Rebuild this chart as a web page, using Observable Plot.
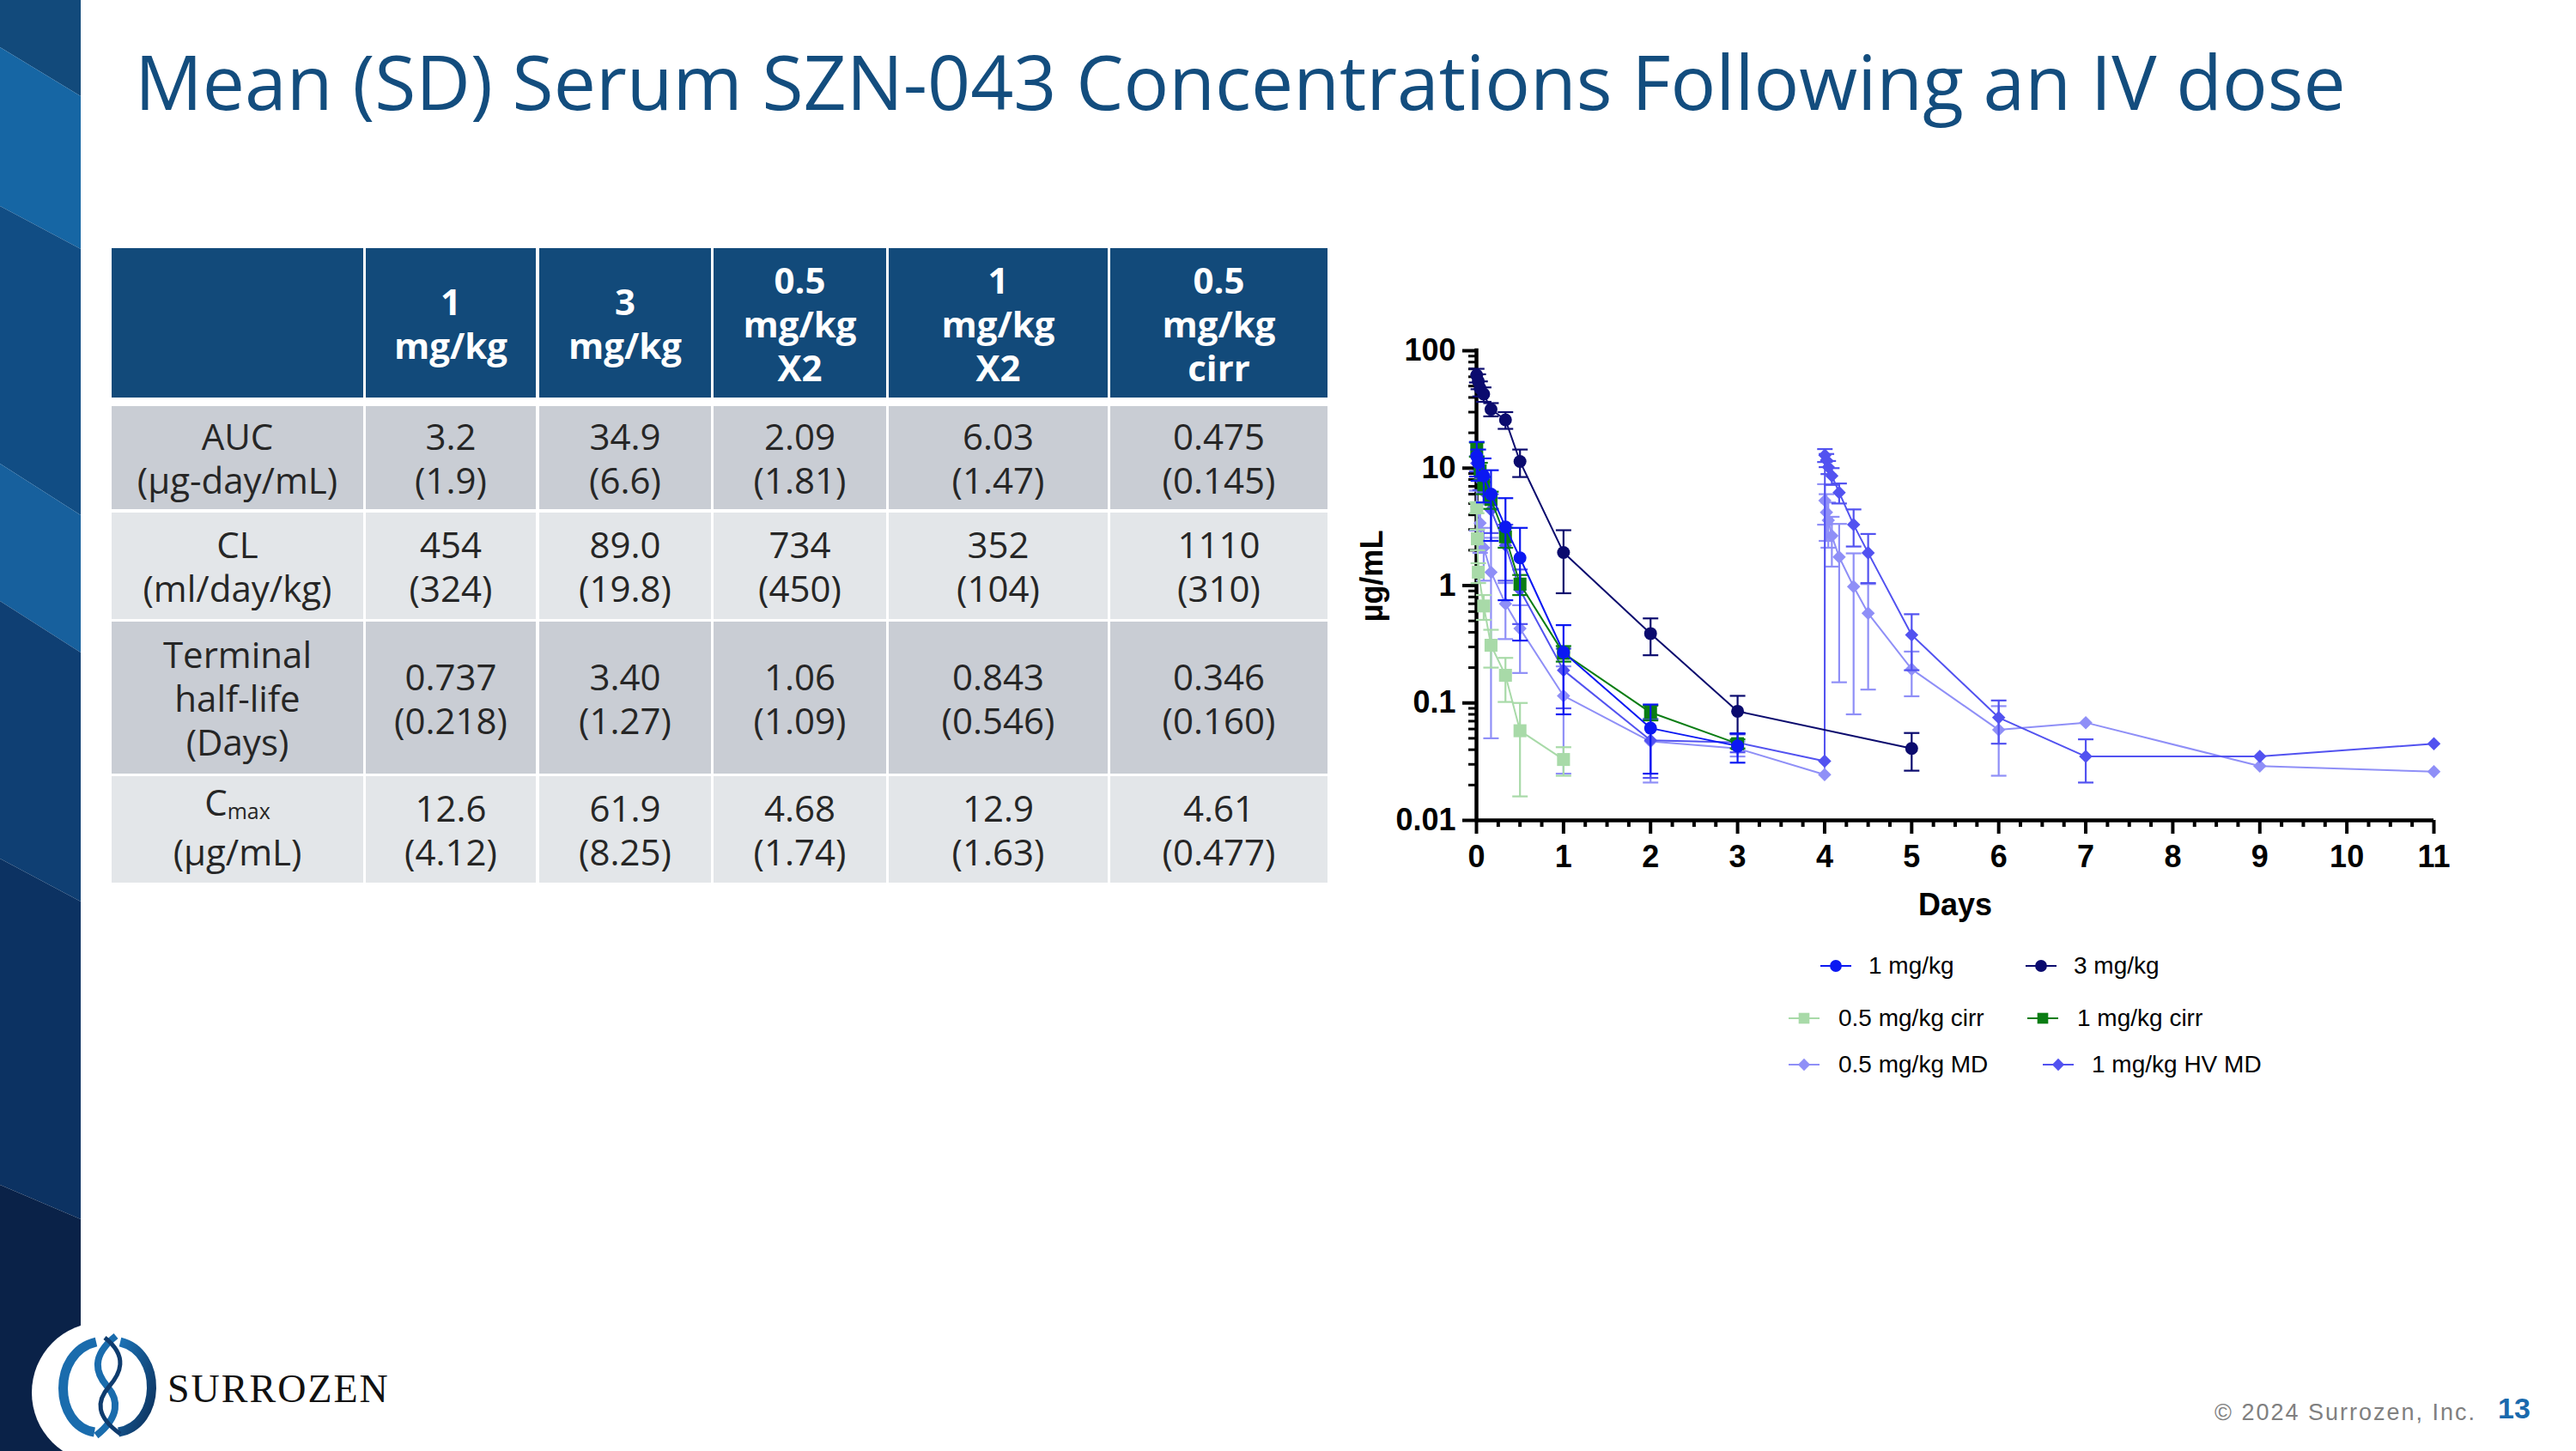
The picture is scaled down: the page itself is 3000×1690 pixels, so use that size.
<!DOCTYPE html>
<html><head><meta charset="utf-8">
<script src="https://cdn.jsdelivr.net/npm/d3@7"></script>
<script src="https://cdn.jsdelivr.net/npm/@observablehq/plot@0.6"></script>
<style>
html,body{margin:0;padding:0;background:#fff;}
#page{position:relative;width:3000px;height:1690px;overflow:hidden;background:#fff;}
#deco{position:absolute;left:0;top:0;}
.cell{position:absolute;display:flex;align-items:center;justify-content:center;text-align:center;box-sizing:border-box;
  font-family:"Open Sans",sans-serif;font-size:42px;line-height:51px;color:#262626;white-space:pre-line;}
.hdr{background:#124a7a;color:#fff;font-weight:bold;}
#chart{position:absolute;left:1560px;top:370px;}
.leg{position:absolute;display:flex;align-items:center;font-family:"Liberation Sans",Arial,sans-serif;font-size:28px;color:#000;white-space:nowrap;}
</style></head>
<body><div id="page">
<svg id="deco" width="3000" height="1690"></svg>
<div id="table"></div>
<div id="chart"></div>
<div id="legend"></div>
</div>
<script>
// ---------------- DATA ----------------
const seriesNames = ["1 mg/kg", "3 mg/kg", "0.5 mg/kg cirr", "1 mg/kg cirr", "0.5 mg/kg MD", "1 mg/kg HV MD"];

const days_1 = [0.003, 0.021, 0.083, 0.167, 0.333, 0.5, 1, 2, 3];
const mean_1 = [12.6, 11.1, 8.6, 6.0, 3.15, 1.72, 0.27, 0.061, 0.043];
const sd_1   = [4.12, 3.3, 3.5, 3.6, 2.4, 1.38, 0.19, 0.036, 0.012];

const days_3 = [0.003, 0.021, 0.042, 0.083, 0.167, 0.333, 0.5, 1, 2, 3, 5];
const mean_3 = [61.9, 55, 47.8, 42.7, 31.7, 25.8, 11.4, 1.91, 0.39, 0.085, 0.041];
const sd_3   = [8.25, 8, 7, 6, 4.1, 4.2, 3.0, 1.05, 0.135, 0.03, 0.0145];

const days_05cirr = [0.003, 0.01, 0.021, 0.083, 0.167, 0.333, 0.5, 1];
const mean_05cirr = [4.61, 2.5, 1.3, 0.67, 0.31, 0.172, 0.058, 0.033];
const sd_05cirr   = [0.477, 0.5, 0.25, 0.16, 0.11, 0.07, 0.042, 0.009];

const days_1cirr = [0.003, 0.042, 0.083, 0.167, 0.333, 0.5, 1, 2, 3];
const mean_1cirr = [14.5, 9.5, 7.2, 5.4, 2.6, 1.03, 0.265, 0.083, 0.045];
const sd_1cirr   = [2.0, 1.6, 1.2, 0.9, 0.5, 0.2, 0.04, 0.012, 0.004];

const days_05md = [0.003, 0.042, 0.083, 0.167, 0.333, 0.5, 1, 2, 3, 4, 4.003, 4.021, 4.042, 4.083, 4.167, 4.333, 4.5, 5, 6, 7, 9, 11];
const mean_05md = [4.68, 3.4, 2.1, 1.3, 0.70, 0.43, 0.115, 0.047, 0.041, 0.0245, 5.3, 4.2, 3.6, 2.65, 1.75, 0.98, 0.58, 0.194, 0.059, 0.068, 0.029, 0.026];
const sd_05md   = [1.74, 1.5, 1.0, 1.25, 0.35, 0.25, 0.09, 0.026, 0.006, 0, 2.0, 1.8, 1.5, 1.2, 1.6, 0.9, 0.45, 0.08, 0.035, 0, 0, 0];

const days_1hvmd = [0.003, 0.042, 0.083, 0.167, 0.333, 0.5, 1, 2, 3, 4, 4.003, 4.021, 4.042, 4.083, 4.167, 4.333, 4.5, 5, 6, 7, 9, 11];
const mean_1hvmd = [11.0, 8.0, 6.3, 4.4, 2.2, 0.92, 0.19, 0.048, 0.046, 0.032, 12.9, 11.7, 10.2, 8.6, 6.2, 3.3, 1.9, 0.38, 0.075, 0.035, 0.035, 0.045];
const sd_1hvmd   = [1.63, 1.5, 1.3, 1.6, 1.1, 0.45, 0.1, 0.025, 0.008, 0, 1.63, 1.5, 1.3, 1.4, 1.2, 1.15, 0.85, 0.19, 0.03, 0.014, 0, 0];

const xTicks = [0, 1, 2, 3, 4, 5, 6, 7, 8, 9, 10, 11];
const xTickLabels = ["0", "1", "2", "3", "4", "5", "6", "7", "8", "9", "10", "11"];
const yTicks = [0.01, 0.1, 1, 10, 100];
const yTickLabels = ["0.01", "0.1", "1", "10", "100"];

const tableHeaders = ["", "1\nmg/kg", "3\nmg/kg", "0.5\nmg/kg\nX2", "1\nmg/kg\nX2", "0.5\nmg/kg\ncirr"];
const tableRowLabels = ["AUC\n(µg-day/mL)", "CL\n(ml/day/kg)", "Terminal\nhalf-life\n(Days)", "C<sub>max</sub>\n(µg/mL)"];
const tableValues = [
  ["3.2\n(1.9)", "34.9\n(6.6)", "2.09\n(1.81)", "6.03\n(1.47)", "0.475\n(0.145)"],
  ["454\n(324)", "89.0\n(19.8)", "734\n(450)", "352\n(104)", "1110\n(310)"],
  ["0.737\n(0.218)", "3.40\n(1.27)", "1.06\n(1.09)", "0.843\n(0.546)", "0.346\n(0.160)"],
  ["12.6\n(4.12)", "61.9\n(8.25)", "4.68\n(1.74)", "12.9\n(1.63)", "4.61\n(0.477)"]
];

const titleText = "Mean (SD) Serum SZN-043 Concentrations Following an IV dose";
const footerText = "© 2024 Surrozen, Inc.";
const pageNumber = "13";
const logoText = "SURROZEN";

// ---------------- STYLE ----------------
const seriesColors = ["#0b18f2", "#0b0b6e", "#a8daa8", "#0a7d13", "#8f8ff7", "#5252f0"];
const seriesSymbols = ["circle", "circle", "square", "square", "diamond2", "diamond2"];
const seriesR = [7.5, 7.5, 8.5, 8.5, 7, 7];
const drawOrder = [4, 5, 2, 3, 1, 0];

const seriesData = [
  [days_1, mean_1, sd_1], [days_3, mean_3, sd_3], [days_05cirr, mean_05cirr, sd_05cirr],
  [days_1cirr, mean_1cirr, sd_1cirr], [days_05md, mean_05md, sd_05md], [days_1hvmd, mean_1hvmd, sd_1hvmd]
];
const rows = [];
seriesData.forEach(([dd, mm, ss], s) => dd.forEach((day, j) => {
  const mean = mm[j], sd = ss[j];
  rows.push({s, day, mean, sd, lo: Math.max(mean - sd, 0.01), hi: mean + sd, loCap: mean - sd > 0.0101});
}));

// ---------------- DECORATION ----------------
const deco = d3.select("#deco");
const bandPolys = [
  ["0,0 94,0 94,112 0,55", "#124a7b"],
  ["0,55 94,112 94,290 0,240", "#1666a4"],
  ["0,240 94,290 94,600 0,540", "#114d84"],
  ["0,540 94,600 94,760 0,700", "#17609d"],
  ["0,700 94,760 94,1050 0,1000", "#0f3f73"],
  ["0,1000 94,1050 94,1420 0,1380", "#0c3262"],
  ["0,1380 94,1420 94,1690 0,1690", "#0a2248"]
];
bandPolys.forEach(([p, c]) => deco.append("polygon").attr("points", p).attr("fill", c));
deco.append("circle").attr("cx", 119).attr("cy", 1622).attr("r", 82).attr("fill", "#fff");
const defs = deco.append("defs");
const g1 = defs.append("linearGradient").attr("id", "ringG").attr("x1", 0).attr("y1", 0).attr("x2", 1).attr("y2", 1);
g1.append("stop").attr("offset", "0%").attr("stop-color", "#1c74b8");
g1.append("stop").attr("offset", "100%").attr("stop-color", "#0c2f5a");
deco.append("path").attr("d", "M 112 1563 C 60 1575, 62 1660, 110 1668").attr("fill", "none").attr("stroke", "#1a6cad").attr("stroke-width", 11);
deco.append("path").attr("d", "M 140 1563 C 190 1575, 188 1660, 138 1668").attr("fill", "none").attr("stroke", "url(#ringG)").attr("stroke-width", 11);
deco.append("path").attr("d", "M 135 1556 C 105 1580, 112 1600, 125 1615 C 138 1630, 140 1650, 112 1672").attr("fill", "none").attr("stroke", "#1a6cad").attr("stroke-width", 8);
deco.append("path").attr("d", "M 122 1558 C 150 1580, 140 1600, 127 1615 C 112 1632, 112 1650, 140 1670").attr("fill", "none").attr("stroke", "#0f3c6e").attr("stroke-width", 5);
deco.append("text").attr("x", 195).attr("y", 1633).text(logoText)
  .attr("font-family", "'Liberation Serif', serif").attr("font-size", 46).attr("letter-spacing", 2).attr("fill", "#111");
deco.append("text").attr("x", 157).attr("y", 128).text(titleText)
  .attr("font-family", "'Open Sans', sans-serif").attr("font-size", 87.7).attr("fill", "#134d7e");
deco.append("text").attr("x", 2579).attr("y", 1654).text(footerText)
  .attr("font-family", "'Liberation Sans', Arial, sans-serif").attr("font-size", 27).attr("letter-spacing", 2).attr("fill", "#808080");
deco.append("text").attr("x", 2909).attr("y", 1652).text(pageNumber)
  .attr("font-family", "'Liberation Sans', Arial, sans-serif").attr("font-size", 34).attr("font-weight", "bold").attr("fill", "#1a6aad");

// ---------------- TABLE ----------------
const colX = [[130, 423], [426, 624], [628, 828], [831, 1032], [1035, 1290], [1293, 1546]];
const rowY = [[289, 463], [473, 593], [597, 721], [724, 901], [904, 1028]];
const rowBg = ["#c9cdd4", "#e3e6e9", "#c9cdd4", "#e3e6e9"];
const tbl = document.getElementById("table");
function cell(x, y, html, cls, bg) {
  const d = document.createElement("div");
  d.className = "cell " + cls;
  d.style.left = x[0] + "px"; d.style.width = (x[1] - x[0]) + "px";
  d.style.top = y[0] + "px"; d.style.height = (y[1] - y[0]) + "px";
  if (bg) d.style.background = bg;
  if (html.includes("<sub>")) {
    const lines = html.split("\n");
    d.innerHTML = "<div>" + lines.map((l, i) =>
      `<div style="${i > 0 ? "margin-top:7px;" : "margin-top:-7px;"}">` +
      l.replace(/<sub>/g, '<sub style="font-size:25px;vertical-align:-4px;line-height:0">') + "</div>").join("") + "</div>";
  } else {
    d.innerHTML = "<div>" + html + "</div>";
  }
  tbl.appendChild(d);
}
tableHeaders.forEach((h, c) => cell(colX[c], rowY[0], h, "hdr"));
tableRowLabels.forEach((lab, r) => {
  cell(colX[0], rowY[r + 1], lab, "", rowBg[r]);
  tableValues[r].forEach((v, c) => cell(colX[c + 1], rowY[r + 1], v, "", rowBg[r]));
});

// ---------------- CHART ----------------
const cap = {draw(ctx) { ctx.moveTo(-9, 0); ctx.lineTo(9, 0); }};
const xMinor = d3.range(0, 11.001, 0.25).filter(v => Math.abs(v - Math.round(v)) > 1e-6);
const yMinor = [];
[0.01, 0.1, 1, 10].forEach(b => { for (let k = 2; k <= 9; k++) yMinor.push(b * k); });

const marks = [
  Plot.axisX(xMinor, {tickSize: 8, strokeWidth: 4, fill: "none", label: null}),
  Plot.axisY(yMinor, {tickSize: 9, strokeWidth: 3, fill: "none", label: null}),
  Plot.axisX(xTicks, {tickSize: 16, strokeWidth: 4, tickPadding: 13, label: null,
    tickFormat: d => xTickLabels[xTicks.indexOf(d)], fontSize: 36, fontWeight: "bold", fill: "#000"}),
  Plot.axisY(yTicks, {tickSize: 16, strokeWidth: 4, tickPadding: 8, label: null,
    tickFormat: d => yTickLabels[yTicks.indexOf(d)], fontSize: 36, fontWeight: "bold", fill: "#000"}),
  Plot.ruleY([0.01], {stroke: "#000", strokeWidth: 4.5}),
  Plot.ruleX([0], {y1: 0.01, y2: 100, stroke: "#000", strokeWidth: 4.5, strokeLinecap: "square"}),
  Plot.text(["Days"], {text: d => d, frameAnchor: "bottom", dy: 110, fontSize: 36, fontWeight: "bold", fill: "#000"}),
  Plot.text(["µg/mL"], {text: d => d, frameAnchor: "left", textAnchor: "middle", dx: -121, dy: -11, rotate: -90, fontSize: 36, fontWeight: "bold", fill: "#000"})
];
drawOrder.forEach(s => {
  const d = rows.filter(r => r.s === s);
  const eb = d.filter(r => r.sd > 0);
  const col = seriesColors[s];
  marks.push(Plot.line(d, {x: "day", y: "mean", stroke: col, strokeWidth: 2}));
  marks.push(Plot.ruleX(eb, {x: "day", y1: "lo", y2: "hi", stroke: col, strokeWidth: 2.2}));
  marks.push(Plot.dot(eb, {x: "day", y: "hi", symbol: cap, r: 5, stroke: col, fill: "none", strokeWidth: 2.2}));
  marks.push(Plot.dot(eb.filter(r => r.loCap), {x: "day", y: "lo", symbol: cap, r: 5, stroke: col, fill: "none", strokeWidth: 2.2}));
  marks.push(Plot.dot(d, {x: "day", y: "mean", symbol: seriesSymbols[s], r: seriesR[s], fill: col, stroke: "none"}));
});

const chart = Plot.plot({
  width: 1320, height: 720,
  marginLeft: 159, marginRight: 46, marginTop: 38, marginBottom: 135,
  x: {domain: [0, 11], label: null},
  y: {type: "log", domain: [0.01, 100], label: null},
  style: {fontFamily: "'Liberation Sans', Arial, sans-serif", fontSize: "36px", fontWeight: "bold", color: "#000", background: "transparent", overflow: "visible"},
  marks
});
document.getElementById("chart").appendChild(chart);

// ---------------- LEGEND ----------------
const legendLayout = [
  {s: 0, x: 2120, y: 1125}, {s: 1, x: 2359, y: 1125},
  {s: 2, x: 2083, y: 1186}, {s: 3, x: 2361, y: 1186},
  {s: 4, x: 2083, y: 1240}, {s: 5, x: 2379, y: 1240}
];
const symMap = {circle: [d3.symbolCircle, 150], square: [d3.symbolSquare, 160], diamond2: [d3.symbolDiamond2, 130]};
const leg = document.getElementById("legend");
legendLayout.forEach(({s, x, y}) => {
  const div = document.createElement("div");
  div.className = "leg";
  div.style.left = x + "px"; div.style.top = (y - 20) + "px"; div.style.height = "40px";
  const [sym, size] = symMap[seriesSymbols[s]];
  const path = d3.symbol(sym, size)();
  div.innerHTML = `<svg width="36" height="40" style="margin-right:${s === 5 ? 21 : s >= 2 ? 22 : 20}px">
    <line x1="0" x2="36" y1="20" y2="20" stroke="${seriesColors[s]}" stroke-width="2"/>
    <path d="${path}" transform="translate(18,20)" fill="${seriesColors[s]}"/></svg><span>${seriesNames[s]}</span>`;
  leg.appendChild(div);
});
</script>
</body></html>
